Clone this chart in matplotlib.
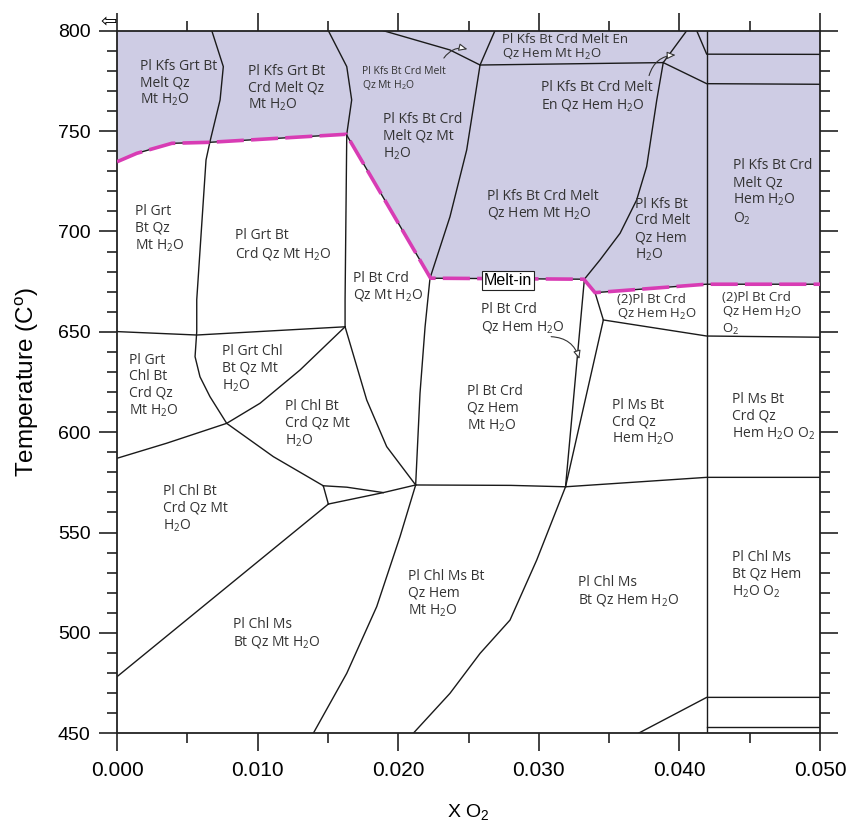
import matplotlib.pyplot as plt
import numpy as np
from matplotlib.ticker import MultipleLocator, FormatStrFormatter

# phase boundaries, (X O2, T in C)
solidus = np.array([[0.0, 734.7], [0.0014, 738.9], [0.0039, 743.9], [0.0066, 744.4],
                    [0.0163, 748.4], [0.0223, 676.7], [0.0332, 676.2], [0.0340, 669.5],
                    [0.0419, 673.7], [0.050, 673.7]])

b_grt_left = np.array([[0.00674, 800], [0.00756, 782.1], [0.00733, 765.5], [0.00661, 744.7],
                       [0.00633, 735.6], [0.00567, 666], [0.00567, 650.1], [0.00555, 637.6],
                       [0.00590, 627.6], [0.00661, 617.7], [0.00780, 604.4], [0.01112, 587.8],
                       [0.01467, 573.3]])
b_650_left = np.array([[0.0, 650.1], [0.00567, 648.4], [0.01622, 652.5]])
b_crd_in = np.array([[0.01503, 800], [0.01634, 782.1], [0.01669, 765.5], [0.01634, 748.4],
                     [0.01622, 665.8], [0.01622, 652.5]])
b_grt_out = np.array([[0.01622, 652.5], [0.01302, 631.0], [0.01017, 614.4], [0.00780, 604.4],
                      [0.00353, 594.5], [0.0, 587.0]])
b_chl_out = np.array([[0.01622, 652.5], [0.01776, 616.0], [0.01918, 592.8], [0.02124, 573.7]])
b_wedge_top = np.array([[0.01467, 573.3], [0.01634, 572.6], [0.01894, 569.9]])
b_wedge_left = np.array([[0.01467, 573.3], [0.01503, 564.2]])
b_wedge_low = np.array([[0.01503, 564.2], [0.01894, 569.9], [0.02124, 573.7]])
b_ms_left = np.array([[0.01503, 564.2], [0.0, 478.2]])
b_hem_in = np.array([[0.02226, 676.7], [0.02191, 652.5], [0.02155, 619.4], [0.02124, 573.7],
                     [0.02013, 548.0], [0.01847, 513.1], [0.01634, 479.9], [0.01396, 450]])
b_hem_melt = np.array([[0.02226, 676.7], [0.02368, 707.3], [0.02487, 740.6], [0.02582, 782.9],
                       [0.02688, 800]])
b_top_a = np.array([[0.01894, 800], [0.02368, 790.4], [0.02582, 782.9]])
b_en_in = np.array([[0.02582, 782.9], [0.03885, 784.1]])
b_en_out = np.array([[0.03885, 784.1], [0.04194, 773.6], [0.05, 773.3]])
b_top_b = np.array([[0.03885, 784.1], [0.04052, 800]])
b_top_c = np.array([[0.04123, 800], [0.04194, 788.3], [0.05, 788.2]])
b_o2_in = np.array([[0.04194, 450], [0.04194, 800]])
b_mt_out = np.array([[0.03885, 784.1], [0.03839, 765.5], [0.03767, 732.3], [0.03696, 715.7],
                     [0.03578, 699.1], [0.03435, 685.8], [0.03324, 676.2]])
b_sliver_l = np.array([[0.03324, 676.2], [0.03190, 572.8]])
b_sliver_r = np.array([[0.03400, 669.5], [0.03459, 655.9], [0.03190, 572.8]])
b_ms_in = np.array([[0.03459, 655.9], [0.04194, 647.9], [0.05, 647.3]])
b_573 = np.array([[0.02124, 573.7], [0.02800, 573.5], [0.03190, 572.8], [0.04194, 577.5],
                  [0.05, 577.5]])
b_mt_low = np.array([[0.03190, 572.8], [0.02985, 536.3], [0.02795, 506.4], [0.02582, 489.8],
                     [0.02368, 469.9], [0.02107, 450]])
b_bottom_a = np.array([[0.03708, 450], [0.04194, 467.9], [0.05, 467.9]])
b_bottom_b = np.array([[0.04194, 452.9], [0.05, 452.9]])

boundaries = [b_grt_left, b_650_left, b_crd_in, b_grt_out, b_chl_out, b_wedge_top,
              b_wedge_left, b_wedge_low, b_ms_left, b_hem_in, b_hem_melt, b_top_a,
              b_en_in, b_en_out, b_top_b, b_top_c, b_o2_in, b_mt_out, b_sliver_l,
              b_sliver_r, b_ms_in, b_573, b_mt_low, b_bottom_a, b_bottom_b]

# field labels: text, x, T (vertical centre), font size
fields = [
    ("Pl Kfs Grt Bt\nMelt Qz\nMt H2O", 0.00164, 773.7, 10),
    ("Pl Kfs Grt Bt\nCrd Melt Qz\nMt H2O", 0.00934, 771.2, 10),
    ("Pl Kfs Bt Crd Melt\nQz Mt H2O", 0.01740, 775.9, 7.5),
    ("Pl Kfs Bt Crd\nMelt Qz Mt\nH2O", 0.01894, 747.2, 10),
    ("Pl Grt\nBt Qz\nMt H2O", 0.00128, 701.2, 10),
    ("Pl Grt Bt\nCrd Qz Mt H2O", 0.00839, 693.3, 10),
    ("Pl Bt Crd\nQz Mt H2O", 0.01681, 672.3, 10),
    ("Pl Grt\nChl Bt\nCrd Qz\nMt H2O", 0.00088, 623.1, 10),
    ("Pl Grt Chl\nBt Qz Mt\nH2O", 0.00745, 631.5, 10),
    ("Pl Chl Bt\nCrd Qz Mt\nH2O", 0.01195, 604.1, 10),
    ("Pl Chl Bt\nCrd Qz Mt\nH2O", 0.00329, 561.7, 10),
    ("Pl Chl Ms\nBt Qz Mt H2O", 0.00827, 499.8, 10),
    ("Pl Chl Ms Bt\nQz Hem\nMt H2O", 0.02072, 519.4, 10),
    ("Pl Chl Ms\nBt Qz Hem H2O", 0.03281, 520.5, 10),
    ("Pl Chl Ms\nBt Qz Hem\nH2O O2", 0.04372, 528.9, 10),
    ("Pl Bt Crd\nQz Hem\nMt H2O", 0.02487, 611.6, 10),
    ("Pl Ms Bt\nCrd Qz\nHem H2O", 0.03518, 604.8, 10),
    ("Pl Ms Bt\nCrd Qz\nHem H2O O2", 0.04372, 607.7, 10),
    ("Pl Bt Crd\nQz Hem H2O", 0.02587, 656.7, 10),
    ("(2)Pl Bt Crd\nQz Hem H2O", 0.03554, 662.1, 9.5),
    ("(2)Pl Bt Crd\nQz Hem H2O\nO2", 0.04301, 658.9, 9.5),
    ("Pl Kfs Bt Crd Melt En\nQz Hem Mt H2O", 0.02736, 791.6, 9.5),
    ("Pl Kfs Bt Crd Melt\nEn Qz Hem H2O", 0.03014, 767.1, 10),
    ("Pl Kfs Bt Crd Melt\nQz Hem Mt H2O", 0.02629, 713.2, 10),
    ("Pl Kfs Bt\nCrd Melt\nQz Hem\nH2O", 0.03684, 700.7, 10),
    ("Pl Kfs Bt Crd\nMelt Qz\nHem H2O\nO2", 0.04383, 719.4, 10),
]

# pointer arrows to thin fields: (start, end)
pointers = [((0.02314, 785.2), (0.02511, 790.4)),
            ((0.03779, 776.3), (0.03992, 787.9)),
            ((0.03068, 647.6), (0.03293, 635.1))]


def chem(s):
    return s.replace("H2O", r"H$_\mathregular{2}$O").replace("O2", r"O$_\mathregular{2}$")


fig = plt.figure(figsize=(8.48, 8.27), dpi=100)
ax = fig.add_axes([0.138, 0.1133, 0.829, 0.8496])

# melt-bearing fields shaded above the solidus
ax.fill(np.r_[solidus[:, 0], 0.05, 0.0], np.r_[solidus[:, 1], 800, 800],
        color='#cecce4', lw=0, zorder=0)

for b in boundaries:
    ax.plot(b[:, 0], b[:, 1], color='#1a1a1a', lw=1.0, zorder=2)

ax.plot(solidus[:, 0], solidus[:, 1], color='#1a1a1a', lw=1.0, zorder=2)
ax.plot(solidus[:, 0], solidus[:, 1], color='#d83cb4', lw=2.6, dashes=(7.5, 2.0),
        solid_capstyle='butt', zorder=3)

for txt, x, t, fs in fields:
    ax.text(x, t, chem(txt), ha='left', va='center', fontsize=fs, family='Open Sans',
            color='#333333', linespacing=1.15, zorder=4)

for (x0, y0), (x1, y1) in pointers:
    ax.annotate('', xy=(x1, y1), xytext=(x0, y0),
                arrowprops=dict(arrowstyle='-|>,head_length=0.5,head_width=0.22',
                                connectionstyle='arc3,rad=-0.4', fc='white',
                                ec='#333333', lw=0.8), zorder=4)

ax.text(0.02783, 675.4, 'Melt-in', ha='center', va='center', fontsize=11.5,
        family='Liberation Sans', zorder=5,
        bbox=dict(boxstyle='square,pad=0.12', fc='white', ec='#222222', lw=0.8))

ax.set_xlim(0, 0.05)
ax.set_ylim(450, 800)
ax.xaxis.set_major_locator(MultipleLocator(0.01))
ax.xaxis.set_minor_locator(MultipleLocator(0.005))
ax.xaxis.set_major_formatter(FormatStrFormatter('%.3f'))
ax.yaxis.set_major_locator(MultipleLocator(50))
ax.yaxis.set_minor_locator(MultipleLocator(10))
ax.tick_params(which='both', direction='out', top=True, right=True, width=1.2, color='#222222')
ax.tick_params(which='major', length=13, pad=7)
ax.tick_params(which='minor', length=7)
ax.tick_params(axis='x', labelsize=15)
ax.tick_params(axis='y', labelsize=14, pad=6)
for lab in ax.get_xticklabels() + ax.get_yticklabels():
    lab.set_family('Liberation Sans')
for sp in ax.spines.values():
    sp.set_linewidth(1.3)
    sp.set_color('#222222')

ax.set_xlabel(r'X O$_\mathregular{2}$', family='Liberation Sans', fontsize=14, labelpad=16)
ax.set_ylabel(r'Temperature (C$^\mathregular{o}$)', family='Liberation Sans', fontsize=17.5,
              labelpad=12)

fig.text(109 / 848, 1 - 22 / 827, '\u21e6', fontsize=14, family='DejaVu Sans',
         ha='center', va='center')

fig.savefig('out.png', dpi=100)
